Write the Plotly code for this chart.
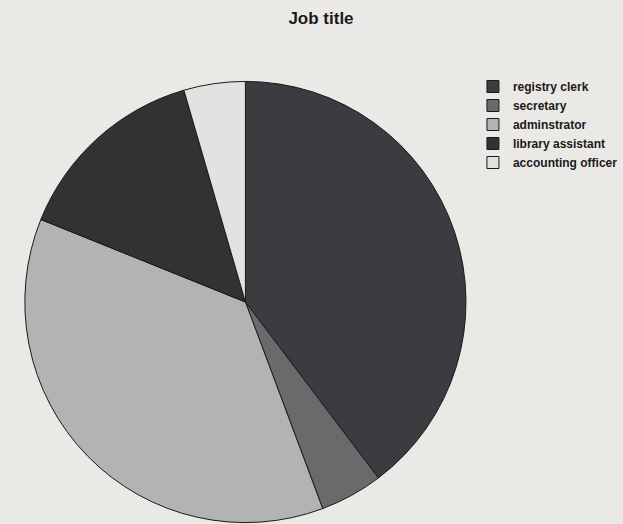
import plotly.graph_objects as go

labels = ["registry clerk", "secretary", "adminstrator", "library assistant", "accounting officer"]
values = [39.7, 4.6, 36.8, 14.4, 4.5]
colors = ["#3c3c40", "#6a6a6c", "#b3b3b3", "#323234", "#e2e2e0"]

W, H = 623, 524
cx, cy, r = 247, 302, 222

fig = go.Figure(go.Pie(
    labels=labels, values=values, sort=False, direction="clockwise", rotation=0,
    marker=dict(colors=colors, line=dict(color="#1a1a1a", width=1)),
    textinfo="none", hoverinfo="label+percent",
    domain=dict(x=[(cx - r) / W, (cx + r) / W], y=[(H - cy - r) / H, (H - cy + r) / H]),
))

fig.update_layout(
    width=W, height=H,
    margin=dict(l=0, r=0, t=0, b=0),
    paper_bgcolor="#ebe9e6",
    plot_bgcolor="#ebe9e6",
    title=dict(text="<b>Job title</b>", x=321 / W, xanchor="center", y=1 - 18 / H, yanchor="middle",
               font=dict(family="Liberation Sans, Arial", size=17, color="#1a1a1a")),
    legend=dict(x=476 / W, xanchor="left", y=1 - 72 / H, yanchor="top",
                font=dict(family="Liberation Sans, Arial", size=12, color="#1a1a1a", weight="bold"),
                bgcolor="rgba(0,0,0,0)", tracegroupgap=0, itemwidth=30),
    showlegend=True,
)

fig.write_html("out.html")
